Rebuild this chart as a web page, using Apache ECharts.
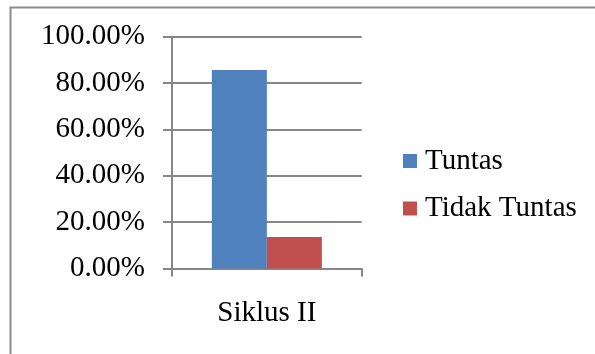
<!DOCTYPE html>
<html>
<head>
<meta charset="utf-8">
<script src="https://cdn.jsdelivr.net/npm/echarts@6/dist/echarts.min.js"></script>
<style>
  html, body { margin: 0; padding: 0; background: #ffffff; }
  #chart { width: 595px; height: 354px; }
</style>
</head>
<body>
<div id="chart"></div>
<script>
// Completion rate per cycle (percent)
const categories = ['Siklus II'];
const tuntas = [85.6];
const tidakTuntas = [13.6];
const seriesNames = ['Tuntas', 'Tidak Tuntas'];
const yTicks = { min: 0, max: 100, interval: 20 };

const FONT = '"Liberation Serif", "Times New Roman", serif';
const FS = 29;
const GRAY = '#878787';

const chart = echarts.init(document.getElementById('chart'), null, { renderer: 'canvas' });

chart.setOption({
  animation: false,
  backgroundColor: '#ffffff',
  graphic: [{
    type: 'rect',
    shape: { x: 10.5, y: 7.5, width: 800, height: 800 },
    style: { fill: 'none', stroke: '#8c8c8c', lineWidth: 2 },
    silent: true
  }],
  grid: { left: 172, right: 233.3, top: 36.7, bottom: 85.5, containLabel: false },
  legend: {
    orient: 'vertical',
    left: 398,
    top: 141,
    padding: 5,
    itemWidth: 14,
    itemHeight: 14,
    itemGap: 17.5,
    icon: 'rect',
    textStyle: {
      fontFamily: FONT, fontSize: FS, color: '#000000', lineHeight: 30,
      padding: [0, 0, 0, 3]
    },
    data: seriesNames
  },
  xAxis: {
    type: 'category',
    data: categories,
    boundaryGap: true,
    axisLine: { lineStyle: { color: GRAY, width: 2 } },
    axisTick: { show: true, length: 8, lineStyle: { color: GRAY, width: 2 } },
    axisLabel: { fontFamily: FONT, fontSize: FS, color: '#000000', margin: 30 }
  },
  yAxis: {
    type: 'value',
    min: yTicks.min,
    max: yTicks.max,
    interval: yTicks.interval,
    axisLine: { show: true, lineStyle: { color: GRAY, width: 2 } },
    axisTick: { show: true, length: 9, lineStyle: { color: GRAY, width: 2 } },
    splitLine: { show: true, lineStyle: { color: GRAY, width: 2 } },
    axisLabel: {
      fontFamily: FONT, fontSize: FS, color: '#000000', margin: 27,
      formatter: v => v.toFixed(2) + '%'
    }
  },
  series: [
    {
      name: seriesNames[0],
      type: 'bar',
      data: tuntas,
      barWidth: 55,
      barGap: '0%',
      itemStyle: { color: '#4F81BD' }
    },
    {
      name: seriesNames[1],
      type: 'bar',
      data: tidakTuntas,
      barWidth: 55,
      barGap: '0%',
      itemStyle: { color: '#C0504D' }
    }
  ]
});
</script>
</body>
</html>
